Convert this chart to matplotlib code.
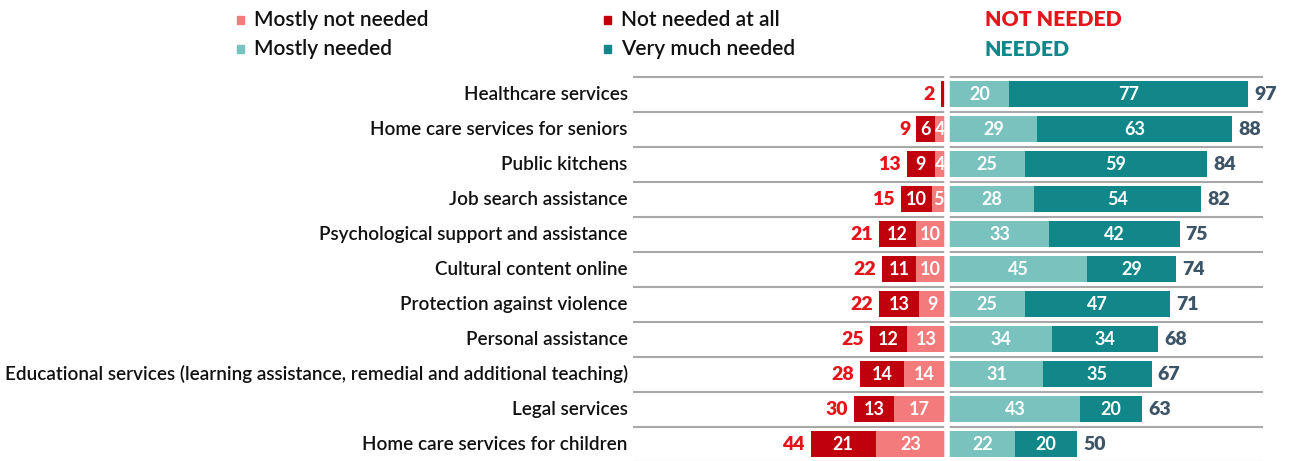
import numpy as np
import matplotlib.pyplot as plt

# survey results, share of respondents (%)
services = ['Healthcare services', 'Home care services for seniors', 'Public kitchens',
            'Job search assistance', 'Psychological support and assistance',
            'Cultural content online', 'Protection against violence', 'Personal assistance',
            'Educational services (learning assistance, remedial and additional teaching)',
            'Legal services', 'Home care services for children']
not_at_all = [1, 6, 9, 10, 12, 11, 13, 12, 14, 13, 21]
mostly_not = [1, 4, 4, 5, 10, 10, 9, 13, 14, 17, 23]
not_needed_total = [2, 9, 13, 15, 21, 22, 22, 25, 28, 30, 44]
mostly_needed = [20, 29, 25, 28, 33, 45, 25, 34, 31, 43, 22]
very_much = [77, 63, 59, 54, 42, 29, 47, 34, 35, 20, 20]
needed_total = [97, 88, 84, 82, 75, 74, 71, 68, 67, 63, 50]

c_pink = '#f47b7b'
c_dred = '#c1000d'
c_lteal = '#79c2be'
c_teal = '#11878a'
c_red_txt = '#e4161c'
c_slate = '#3c5466'

plt.rcParams['font.family'] = ['Lato', 'DejaVu Sans']

W, H = 1290, 461
fig = plt.figure(figsize=(W / 100, H / 100), dpi=100)
ax = fig.add_axes([633 / W, 0, 1 - 633 / W, 1])

ppu = 3.1                      # pixels per percentage point
x0 = 947
ax.set_xlim((633 - x0) / ppu, (W - x0) / ppu)
ax.set_ylim((H - 94) / 35, -94 / 35)
ax.axis('off')

y = np.arange(len(services))
bh = 0.77
nat = np.array(not_at_all)
mn = np.array(mostly_not)
mnd = np.array(mostly_needed)
vm = np.array(very_much)

# row separators
for yy in np.arange(-0.5, len(services) - 0.4, 1):
    ax.plot([-101, 101.5], [yy, yy], color='#a8a8a8', lw=1.5, zorder=1)

ax.barh(y, -mn, height=bh, color=c_pink, zorder=2)
ax.barh(y, -nat, left=-mn, height=bh, color=c_dred, zorder=2)
ax.barh(y, mnd, height=bh, color=c_lteal, zorder=2)
ax.barh(y, vm, left=mnd, height=bh, color=c_teal, zorder=2)
ax.axvline(0, color='white', lw=4, zorder=3)

lab = dict(color='white', fontsize=13, fontweight='bold', ha='center', va='center', zorder=4)
for i in y:
    if mn[i] >= 3:
        ax.text(-mn[i] / 2 - 0.3, i, str(mn[i]), **lab)
    if nat[i] >= 3:
        ax.text(-mn[i] - nat[i] / 2, i, str(nat[i]), **lab)
    ax.text(mnd[i] / 2 + 0.5, i, str(mnd[i]), **lab)
    ax.text(mnd[i] + vm[i] / 2, i, str(vm[i]), **lab)
    ax.text(-mn[i] - nat[i] - 1.8, i, str(not_needed_total[i]), color=c_red_txt,
            fontsize=14, fontweight='heavy', ha='right', va='center')
    ax.text(mnd[i] + vm[i] + 2, i, str(needed_total[i]), color=c_slate,
            fontsize=14, fontweight='heavy', ha='left', va='center')
    ax.text(-103, i, services[i], color='#111111', fontsize=13.55, fontweight='semibold',
            ha='right', va='center', clip_on=False)

# legend
def legend_item(px, py, color, text):
    fig.patches.append(plt.Rectangle((px / W, 1 - (py + 4) / H), 7 / W, 8 / H,
                                     color=color, transform=fig.transFigure))
    fig.text((px + 17) / W, 1 - py / H, text, fontsize=15, fontweight='semibold',
             color='#111111', va='center', ha='left')

legend_item(237, 20, c_pink, 'Mostly not needed')
legend_item(237, 49, c_lteal, 'Mostly needed')
legend_item(604, 20, c_dred, 'Not needed at all')
legend_item(604, 49, c_teal, 'Very much needed')
fig.text(985 / W, 1 - 20 / H, 'NOT NEEDED', fontsize=15.3, fontweight='heavy',
         color=c_red_txt, va='center')
fig.text(985 / W, 1 - 49 / H, 'NEEDED', fontsize=15.3, fontweight='heavy',
         color=c_teal, va='center')

fig.savefig('out.png', dpi=100, facecolor='white')
